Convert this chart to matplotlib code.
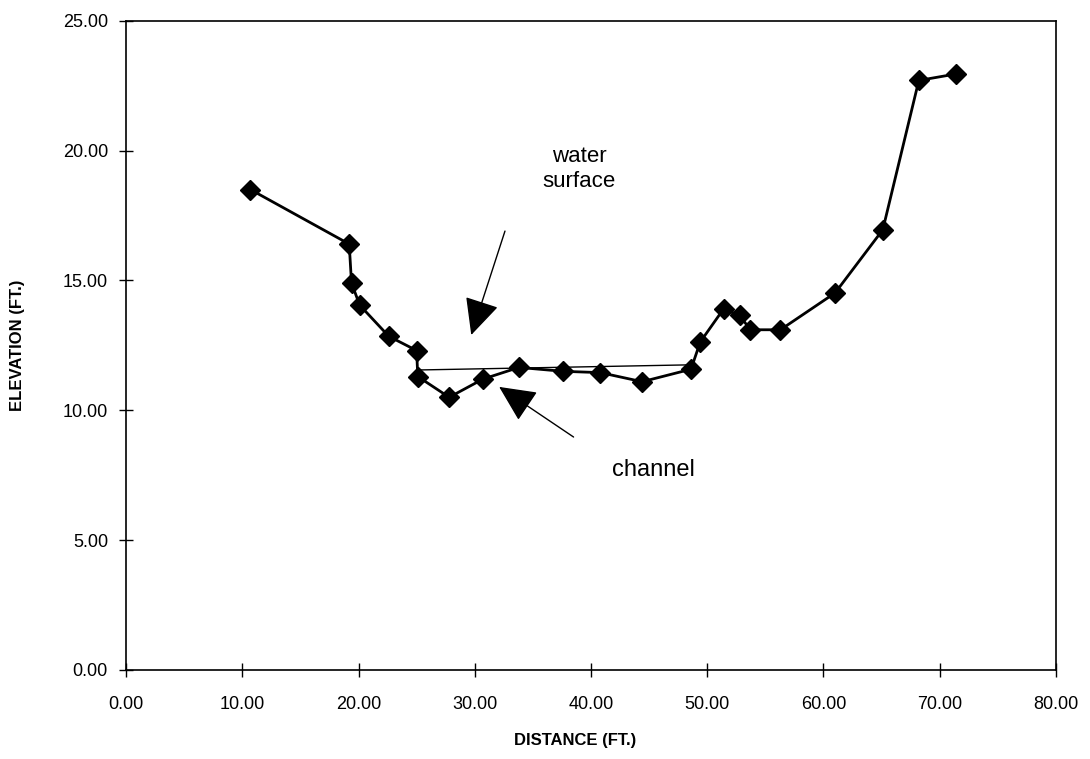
import matplotlib
matplotlib.use("Agg")
import matplotlib.pyplot as plt

plt.rcParams['font.family'] = ['Liberation Sans', 'DejaVu Sans']

# cross section survey points
distance = [10.7, 19.2, 19.4, 20.1, 22.6, 25.0, 25.1, 27.8, 30.7, 33.8, 37.6,
            40.8, 44.4, 48.6, 49.4, 51.4, 52.8, 53.7, 56.3, 61.0, 65.1, 68.2, 71.4]
elevation = [18.5, 16.4, 14.9, 14.05, 12.85, 12.3, 11.3, 10.5, 11.2, 11.65, 11.5,
             11.45, 11.1, 11.58, 12.63, 13.9, 13.65, 13.1, 13.1, 14.52, 16.95, 22.7, 22.95]

# water surface line
ws_distance = [25.0, 48.6]
ws_elevation = [11.55, 11.75]

xticks = [0, 10, 20, 30, 40, 50, 60, 70, 80]
yticks = [0, 5, 10, 15, 20, 25]

fig = plt.figure(figsize=(10.9, 7.59), dpi=100)
ax = fig.add_axes([0.1156, 0.1173, 0.8532, 0.8554])

ax.plot(ws_distance, ws_elevation, color='black', lw=1.0)
ax.plot(distance, elevation, color='black', lw=2.0, marker='D', ms=10)

ax.set_xlim(0, 80)
ax.set_ylim(0, 25)
ax.set_xticks(xticks)
ax.set_yticks(yticks)
ax.set_xticklabels(['%.2f' % v for v in xticks])
ax.set_yticklabels(['%.2f' % v for v in yticks])
ax.tick_params(direction='inout', length=10, width=1, labelsize=13)
ax.tick_params(axis='x', pad=14)
ax.tick_params(axis='y', pad=8)
for s in ax.spines.values():
    s.set_linewidth(1.2)

ax.set_xlabel('DISTANCE (FT.)', fontsize=12, fontweight='bold')
ax.set_ylabel('ELEVATION (FT.)', fontsize=12, fontweight='bold')
ax.xaxis.set_label_coords((575 - 126) / 930, -(733 - 670) / 649)
ax.yaxis.set_label_coords(-(126 - 25) / 930, 0.5)

arrow = dict(arrowstyle='-|>,head_length=2.3,head_width=1.1', color='black',
             lw=1.0, mutation_scale=10, shrinkA=0, shrinkB=0)
ax.annotate('', xy=(29.7, 12.9), xytext=(32.6, 16.9), arrowprops=arrow)
ax.annotate('', xy=(32.1, 10.9), xytext=(38.5, 8.97), arrowprops=arrow)

ax.text(39.0, 19.3, 'water\nsurface', fontsize=16, ha='center', va='center',
        linespacing=1.25)
ax.text(45.4, 7.7, 'channel', fontsize=17, ha='center', va='center')

fig.savefig('out.png', dpi=100)
